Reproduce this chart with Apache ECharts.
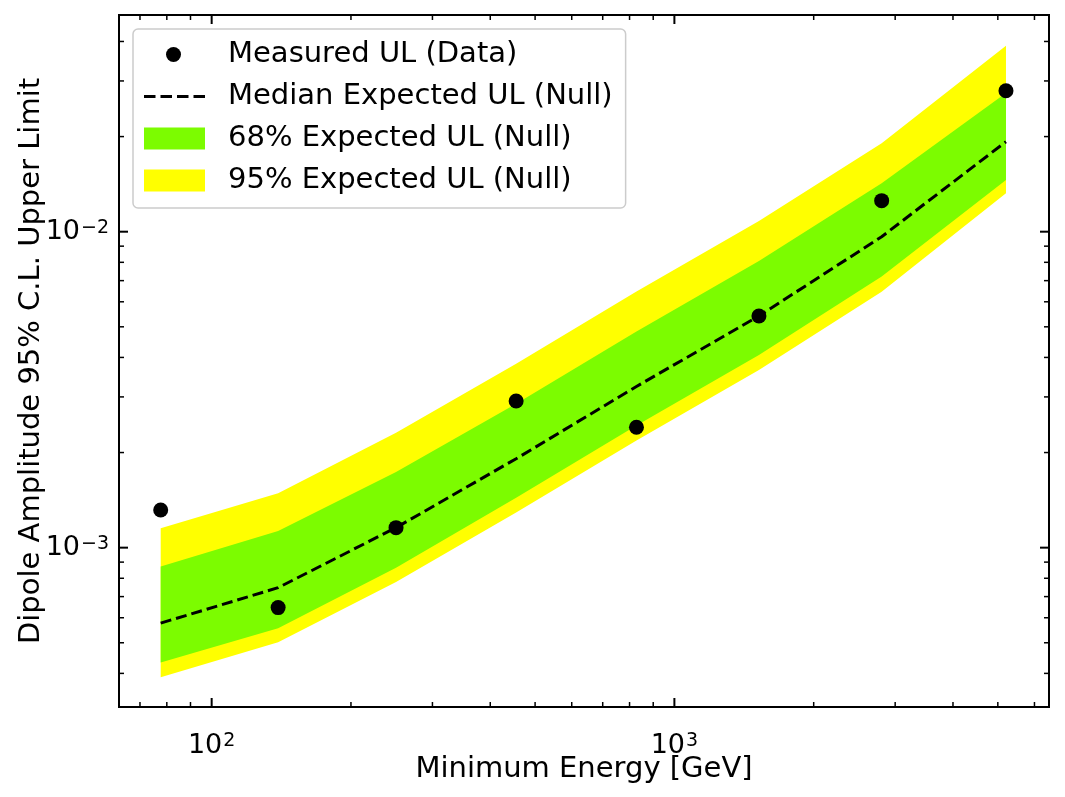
<!DOCTYPE html>
<html>
<head>
<meta charset="utf-8">
<script src="https://cdn.jsdelivr.net/npm/echarts@6/dist/echarts.min.js"></script>
<style>
  html, body { margin: 0; padding: 0; background: #fff; }
  #chart { width: 1065px; height: 797px; }
</style>
</head>
<body>
<div id="chart"></div>
<script>
// minimum energy of each bin [GeV]
const energy = [77.6, 139.2, 250.3, 455, 828, 1523, 2805, 5207];
// measured upper limits
const measuredUL = [1.316e-3, 6.46e-4, 1.157e-3, 2.912e-3, 2.404e-3, 5.41e-3, 1.254e-2, 2.794e-2];
// expected (null) upper limits
const medianUL = [5.77e-4, 7.47e-4, 1.157e-3, 1.912e-3, 3.237e-3, 5.41e-3, 9.64e-3, 1.927e-2];
const band68Low = [4.33e-4, 5.56e-4, 8.64e-4, 1.439e-3, 2.436e-3, 4.07e-3, 7.21e-3, 1.457e-2];
const band68High = [8.71e-4, 1.129e-3, 1.736e-3, 2.856e-3, 4.83e-3, 8.08e-3, 1.423e-2, 2.75e-2];
const band95Low = [3.89e-4, 5.02e-4, 7.79e-4, 1.291e-3, 2.184e-3, 3.65e-3, 6.46e-3, 1.323e-2];
const band95High = [1.152e-3, 1.486e-3, 2.312e-3, 3.822e-3, 6.47e-3, 1.081e-2, 1.905e-2, 3.878e-2];

// tick positions
const xMajorTicks = [100, 1000];
const xMinorTicks = [70, 80, 90, 200, 300, 400, 500, 600, 700, 800, 900, 2000, 3000, 4000, 5000, 6000];
const yMajorTicks = [1e-3, 1e-2];
const yMinorTicks = [4e-4, 5e-4, 6e-4, 7e-4, 8e-4, 9e-4, 2e-3, 3e-3, 4e-3, 5e-3, 6e-3, 7e-3, 8e-3, 9e-3, 2e-2, 3e-2, 4e-2];

const FONT = 'DejaVu Sans';
const X_MIN = 63.06, X_MAX = 6450;
const Y_MIN = 3.131e-4, Y_MAX = 4.851e-2;

const chart = echarts.init(document.getElementById('chart'));

// superscript power-of-ten labels, blank elsewhere
const powLabel = (v) => {
  const e = Math.log10(v);
  const r = Math.round(e);
  if (Math.abs(e - r) > 1e-6) return '';
  const exp = r < 0 ? '\u2212' + (-r) : '' + r;
  return '{b|10}{s|' + exp + '}';
};
const powRich = {
  b: { fontFamily: FONT, fontSize: 27, lineHeight: 27, padding: [3, 0, 3, 0], color: '#000', verticalAlign: 'middle' },
  s: { fontFamily: FONT, fontSize: 19, lineHeight: 19, padding: [0, 0, 14, 1], color: '#000', verticalAlign: 'top' }
};

// band polygon: upper edge forward, lower edge back
const bandRender = (high, low, color) => (params, api) => {
  if (params.dataIndex !== 0) return null;
  const pts = [];
  for (let i = 0; i < energy.length; i++) pts.push(api.coord([energy[i], high[i]]));
  for (let i = energy.length - 1; i >= 0; i--) pts.push(api.coord([energy[i], low[i]]));
  return { type: 'polygon', shape: { points: pts }, style: { fill: color } };
};

const xTickData = xMajorTicks.map(v => [v, 1e-3, 1]).concat(xMinorTicks.map(v => [v, 1e-3, 0]));
const yTickData = yMajorTicks.map(v => [100, v, 1]).concat(yMinorTicks.map(v => [100, v, 0]));

const icoBox = 'M0,0 M79,22 ';
const legendIcons = {
  circle: 'path://' + icoBox + 'M22,11 A7.5,7.5 0 1 1 37,11 A7.5,7.5 0 1 1 22,11 Z',
  dash: 'path://' + icoBox + 'M0,9.5 L11.5,9.5 L11.5,12.5 L0,12.5 Z M16.5,9.5 L28,9.5 L28,12.5 L16.5,12.5 Z M33,9.5 L44.5,9.5 L44.5,12.5 L33,12.5 Z M49.5,9.5 L61,9.5 L61,12.5 L49.5,12.5 Z',
  rect: 'path://' + icoBox + 'M0,0 L61,0 L61,22 L0,22 Z'
};

const option = {
  animation: false,
  grid: {
    left: 119, right: 16, top: 15, bottom: 90,
    outerBoundsMode: 'none',
    show: true, borderColor: '#000', borderWidth: 2, backgroundColor: 'transparent'
  },
  legend: {
    orient: 'vertical',
    left: 133,
    top: 29,
    padding: [11, 13, 13, 11],
    itemWidth: 79,
    itemHeight: 22,
    itemGap: 13,
    backgroundColor: 'rgba(255,255,255,0.8)',
    borderColor: '#cccccc',
    borderWidth: 1.5,
    borderRadius: 5,
    itemStyle: { borderWidth: 0, opacity: 1 },
    textStyle: { fontFamily: FONT, fontSize: 29, color: '#000' },
    data: [
      { name: 'Measured UL (Data)', icon: legendIcons.circle },
      { name: 'Median Expected UL (Null)', icon: legendIcons.dash },
      { name: '68% Expected UL (Null)', icon: legendIcons.rect },
      { name: '95% Expected UL (Null)', icon: legendIcons.rect }
    ]
  },
  xAxis: {
    type: 'log',
    logBase: 10,
    min: X_MIN,
    max: X_MAX,
    name: 'Minimum Energy [GeV]',
    nameLocation: 'middle',
    nameGap: 48,
    nameMoveOverlap: false,
    nameTextStyle: { fontFamily: FONT, fontSize: 29, color: '#000' },
    axisLine: { show: false },
    axisTick: { show: false },
    splitLine: { show: false },
    axisLabel: { margin: 25, formatter: powLabel, rich: powRich, showMinLabel: false, showMaxLabel: false }
  },
  yAxis: {
    type: 'log',
    logBase: 10,
    min: Y_MIN,
    max: Y_MAX,
    name: 'Dipole Amplitude 95% C.L. Upper Limit',
    nameLocation: 'middle',
    nameGap: 73,
    nameRotate: 90,
    nameMoveOverlap: false,
    nameTextStyle: { fontFamily: FONT, fontSize: 29, color: '#000' },
    axisLine: { show: false },
    axisTick: { show: false },
    splitLine: { show: false },
    axisLabel: { margin: 10, formatter: powLabel, rich: powRich, showMinLabel: false, showMaxLabel: false }
  },
  series: [
    {
      name: '95% Expected UL (Null)',
      type: 'custom',
      itemStyle: { color: '#ffff00' },
      data: energy.map((e, i) => [e, band95High[i]]),
      renderItem: bandRender(band95High, band95Low, '#ffff00'),
      z: 1
    },
    {
      name: '68% Expected UL (Null)',
      type: 'custom',
      itemStyle: { color: '#7cfc00' },
      data: energy.map((e, i) => [e, band68High[i]]),
      renderItem: bandRender(band68High, band68Low, '#7cfc00'),
      z: 2
    },
    {
      name: 'Median Expected UL (Null)',
      type: 'line',
      data: energy.map((e, i) => [e, medianUL[i]]),
      symbol: 'none',
      itemStyle: { color: '#000' },
      lineStyle: { color: '#000', width: 3, type: [11, 5] },
      z: 3
    },
    {
      name: 'Measured UL (Data)',
      type: 'scatter',
      data: energy.map((e, i) => [e, measuredUL[i]]),
      symbolSize: 15,
      itemStyle: { color: '#000', opacity: 1 },
      z: 4
    },
    {
      // x ticks, inward on bottom and top
      type: 'custom',
      silent: true,
      clip: false,
      data: xTickData,
      encode: { x: 0, y: 1 },
      renderItem: (params, api) => {
        const cs = params.coordSys;
        const px = api.coord([api.value(0), api.value(1)])[0];
        const major = api.value(2) === 1;
        const len = major ? 9 : 5;
        const st = { stroke: '#000', lineWidth: major ? 2 : 1.5 };
        return { type: 'group', children: [
          { type: 'line', shape: { x1: px, y1: cs.y + cs.height, x2: px, y2: cs.y + cs.height - len }, style: st },
          { type: 'line', shape: { x1: px, y1: cs.y, x2: px, y2: cs.y + len }, style: st }
        ] };
      },
      z: 5
    },
    {
      // y ticks, inward on left and right
      type: 'custom',
      silent: true,
      clip: false,
      data: yTickData,
      encode: { x: 0, y: 1 },
      renderItem: (params, api) => {
        const cs = params.coordSys;
        const py = api.coord([api.value(0), api.value(1)])[1];
        const major = api.value(2) === 1;
        const len = major ? 9 : 5;
        const st = { stroke: '#000', lineWidth: major ? 2 : 1.5 };
        return { type: 'group', children: [
          { type: 'line', shape: { x1: cs.x, y1: py, x2: cs.x + len, y2: py }, style: st },
          { type: 'line', shape: { x1: cs.x + cs.width, y1: py, x2: cs.x + cs.width - len, y2: py }, style: st }
        ] };
      },
      z: 5
    }
  ]
};

chart.setOption(option);
</script>
</body>
</html>
